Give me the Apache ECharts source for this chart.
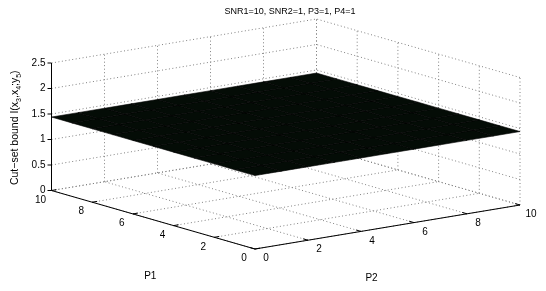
<!DOCTYPE html>
<html>
<head>
<meta charset="utf-8">
<script src="https://cdn.jsdelivr.net/npm/echarts@6/dist/echarts.min.js"></script>
<style>
  html, body { margin: 0; padding: 0; background: #fff; }
  #chart { width: 546px; height: 291px; }
</style>
</head>
<body>
<div id="chart"></div>
<script>
// axis ticks
const p1Ticks = [0, 2, 4, 6, 8, 10]
const p2Ticks = [0, 2, 4, 6, 8, 10]
const zTicks = [0, 0.5, 1, 1.5, 2, 2.5]
// surface grid
const p1Vals = [0, 1, 2, 3, 4, 5, 6, 7, 8, 9, 10]
const p2Vals = [0, 1, 2, 3, 4, 5, 6, 7, 8, 9, 10]
// cut-set bound, rows = P1, columns = P2
const boundVals = [
  [1.44, 1.44, 1.44, 1.44, 1.44, 1.44, 1.44, 1.44, 1.44, 1.44, 1.44],
  [1.44, 1.44, 1.44, 1.44, 1.44, 1.44, 1.44, 1.44, 1.44, 1.44, 1.44],
  [1.44, 1.44, 1.44, 1.44, 1.44, 1.44, 1.44, 1.44, 1.44, 1.44, 1.44],
  [1.44, 1.44, 1.44, 1.44, 1.44, 1.44, 1.44, 1.44, 1.44, 1.44, 1.44],
  [1.44, 1.44, 1.44, 1.44, 1.44, 1.44, 1.44, 1.44, 1.44, 1.44, 1.44],
  [1.44, 1.44, 1.44, 1.44, 1.44, 1.44, 1.44, 1.44, 1.44, 1.44, 1.44],
  [1.44, 1.44, 1.44, 1.44, 1.44, 1.44, 1.44, 1.44, 1.44, 1.44, 1.44],
  [1.44, 1.44, 1.44, 1.44, 1.44, 1.44, 1.44, 1.44, 1.44, 1.44, 1.44],
  [1.44, 1.44, 1.44, 1.44, 1.44, 1.44, 1.44, 1.44, 1.44, 1.44, 1.44],
  [1.44, 1.44, 1.44, 1.44, 1.44, 1.44, 1.44, 1.44, 1.44, 1.44, 1.44],
  [1.44, 1.44, 1.44, 1.44, 1.44, 1.44, 1.44, 1.44, 1.44, 1.44, 1.44]
]

const P_MAX = 10
const Z_MAX = 2.5
// screen length of each full axis (px): P2 goes right/up, P1 left/up, z up
const view = { p2: [265, 44], p1: [-203.5, 58.5], z: 127.5 }
const FONT = '"Liberation Sans", Arial, sans-serif'

// 3d -> flat plane, then the cartesian axes place it
function proj(p1, p2, z) {
  const a = p1 / P_MAX, b = p2 / P_MAX, c = z / Z_MAX
  return [b * view.p2[0] + a * view.p1[0], b * view.p2[1] + a * view.p1[1] + c * view.z]
}
function pt(api, p1, p2, z) {
  return api.coord(proj(p1, p2, z))
}
function unit(v, len) {
  const l = Math.hypot(v[0], v[1])
  return [v[0] / l * len, -v[1] / l * len]
}

const dotted = { stroke: '#808080', lineWidth: 1, lineDash: [1, 2.5] }
const solid = { stroke: '#000', lineWidth: 1 }

function seg(api, a, b, style) {
  const p = pt(api, a[0], a[1], a[2])
  const q = pt(api, b[0], b[1], b[2])
  return { type: 'line', shape: { x1: p[0], y1: p[1], x2: q[0], y2: q[1] }, style: style }
}
function txt(x, y, text, size, align, extra) {
  return Object.assign({
    type: 'text', x: x, y: y,
    style: { text: text, fill: '#000', fontSize: size, fontFamily: FONT, align: align, verticalAlign: 'middle' }
  }, extra || {})
}

// back walls and floor grid
function renderGrid(params, api) {
  const kids = []
  p1Ticks.forEach(v => {
    kids.push(seg(api, [v, 0, 0], [v, P_MAX, 0], dotted))
    kids.push(seg(api, [v, P_MAX, 0], [v, P_MAX, Z_MAX], dotted))
  })
  p2Ticks.forEach(v => {
    kids.push(seg(api, [0, v, 0], [P_MAX, v, 0], dotted))
    kids.push(seg(api, [P_MAX, v, 0], [P_MAX, v, Z_MAX], dotted))
  })
  zTicks.forEach(v => {
    kids.push(seg(api, [P_MAX, 0, v], [P_MAX, P_MAX, v], dotted))
    kids.push(seg(api, [0, P_MAX, v], [P_MAX, P_MAX, v], dotted))
  })
  return { type: 'group', children: kids }
}

// one quad per surface cell
function renderCell(params, api) {
  const i = api.value(0), j = api.value(1)
  const pts = [
    pt(api, p1Vals[i], p2Vals[j], boundVals[i][j]),
    pt(api, p1Vals[i + 1], p2Vals[j], boundVals[i + 1][j]),
    pt(api, p1Vals[i + 1], p2Vals[j + 1], boundVals[i + 1][j + 1]),
    pt(api, p1Vals[i], p2Vals[j + 1], boundVals[i][j + 1])
  ]
  return {
    type: 'polygon',
    shape: { points: pts },
    style: { fill: '#040c06', stroke: '#000', lineWidth: 0.6 }
  }
}

// solid axes, ticks and labels
function renderAxes(params, api) {
  const kids = []
  kids.push(seg(api, [P_MAX, 0, 0], [P_MAX, 0, Z_MAX], solid))
  kids.push(seg(api, [0, 0, 0], [P_MAX, 0, 0], solid))
  kids.push(seg(api, [0, 0, 0], [0, P_MAX, 0], solid))

  zTicks.forEach(v => {
    const p = pt(api, P_MAX, 0, v)
    kids.push({ type: 'line', shape: { x1: p[0] - 4, y1: p[1], x2: p[0], y2: p[1] }, style: solid })
    kids.push(txt(p[0] - 6, p[1], String(v), 10, 'right'))
  })
  const d1 = unit(view.p2, 5)
  p1Ticks.forEach(v => {
    const p = pt(api, v, 0, 0)
    kids.push({ type: 'line', shape: { x1: p[0], y1: p[1], x2: p[0] + d1[0], y2: p[1] + d1[1] }, style: solid })
    kids.push(txt(p[0] - 11, p[1] + 9.5, String(v), 10, 'center'))
  })
  const d2 = unit(view.p1, 5)
  p2Ticks.forEach(v => {
    const p = pt(api, 0, v, 0)
    kids.push({ type: 'line', shape: { x1: p[0], y1: p[1], x2: p[0] + d2[0], y2: p[1] + d2[1] }, style: solid })
    kids.push(txt(p[0] + 11, p[1] + 9.5, String(v), 10, 'center'))
  })

  const m1 = pt(api, P_MAX / 2, 0, 0)
  kids.push(txt(m1[0] - 3, m1[1] + 56, 'P1', 10, 'center'))
  const m2 = pt(api, 0, P_MAX / 2, 0)
  kids.push(txt(m2[0] - 16, m2[1] + 51, 'P2', 10, 'center'))

  const zMid = pt(api, P_MAX, 0, Z_MAX / 2)
  kids.push({
    type: 'text', x: zMid[0] - 36, y: zMid[1] + 1, rotation: Math.PI / 2,
    style: {
      text: 'Cut−set bound I(x{s|3},x{s|4};y{s|5})',
      fill: '#000', fontSize: 10.5, fontFamily: FONT, lineHeight: 14,
      align: 'center', verticalAlign: 'middle',
      rich: { s: { fontSize: 7, fontFamily: FONT, verticalAlign: 'bottom', lineHeight: 8 } }
    }
  })
  return { type: 'group', children: kids }
}

const cells = []
for (let i = 0; i < p1Vals.length - 1; i++) {
  for (let j = 0; j < p2Vals.length - 1; j++) cells.push([i, j])
}

const chart = echarts.init(document.getElementById('chart'))
chart.setOption({
  animation: false,
  title: {
    text: 'SNR1=10, SNR2=1, P3=1, P4=1',
    left: 285, top: 2, textAlign: 'center',
    textStyle: { fontSize: 9, fontWeight: 'normal', color: '#000', fontFamily: FONT }
  },
  grid: { left: 0, right: 0, top: 0, bottom: 0 },
  xAxis: { type: 'value', min: -255, max: 291, show: false },
  yAxis: { type: 'value', min: -42, max: 249, show: false },
  series: [
    { type: 'custom', renderItem: renderGrid, data: [[0, 0]], clip: false, silent: true },
    { type: 'custom', renderItem: renderCell, data: cells, clip: false, silent: true },
    { type: 'custom', renderItem: renderAxes, data: [[0, 0]], clip: false, silent: true }
  ]
})
</script>
</body>
</html>
